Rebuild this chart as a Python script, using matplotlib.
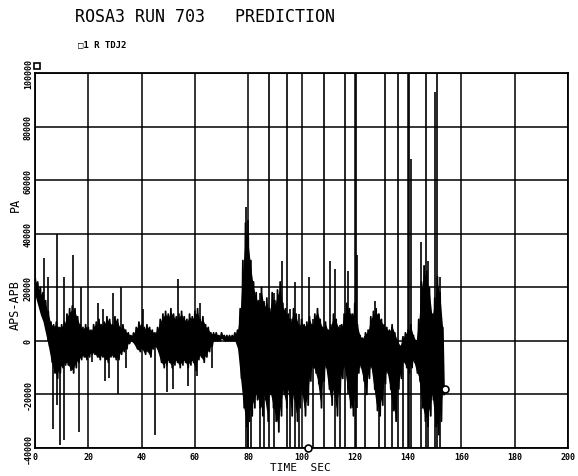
import numpy as np
import matplotlib
matplotlib.use("Agg")
import matplotlib.pyplot as plt

plt.rcParams['font.family'] = ['DejaVu Sans Mono']

# dense trace: upper / lower edge (kPa)
env_t = list(range(0, 154))
env_hi = [24, 22, 20, 18, 15, 11, 7, 6, 7, 5,
          6, 7, 10, 12, 13, 12, 9, 6, 5, 6,
          5, 4, 6, 7, 8, 6, 7, 9, 8, 6,
          9, 8, 5, 6, 4, 3, 2, 3, 5, 7,
          6, 5, 6, 5, 4, 3, 5, 8, 10, 11,
          10, 12, 10, 9, 10, 11, 9, 8, 10, 9,
          11, 12, 8, 9, 6, 5, 3, 3, 3, 2,
          3, 2, 2, 2, 2, 3, 4, 12, 30, 44,
          40, 30, 22, 18, 15, 20, 14, 16, 12, 18,
          15, 19, 22, 14, 12, 10, 8, 12, 10, 6,
          8, 6, 7, 9, 6, 10, 12, 8, 5, 7,
          4, 6, 10, 8, 5, 6, 10, 14, 12, 10,
          14, 6, 2, 1, 3, 4, 9, 11, 12, 10,
          8, 6, 5, 4, 6, 3, 0, -2, 1, 3,
          4, 6, 2, 0, 8, 22, 28, 26, 20, 10,
          16, 24, 18, 5]
env_lo = [19, 15, 11, 8, 3, -2, -8, -12, -14, -12,
          -10, -9, -9, -11, -12, -10, -8, -7, -6, -7,
          -6, -5, -5, -6, -7, -6, -7, -8, -6, -6,
          -7, -7, -5, -4, -3, -1, 0, -1, -3, -4,
          -3, -5, -4, -6, -3, -2, -4, -8, -10, -9,
          -8, -10, -9, -8, -10, -9, -8, -10, -9, -8,
          -11, -7, -6, -8, -6, -4, -2, 0, 0, 0,
          1, 0, 0, 0, 0, 0, -3, -14, -25, -32,
          -30, -28, -25, -22, -25, -28, -22, -30, -20, -25,
          -30, -34, -28, -20, -25, -20, -28, -22, -30, -25,
          -20, -28, -24, -15, -10, -12, -16, -25, -15, -10,
          -18, -24, -20, -28, -20, -14, -10, -18, -25, -28,
          -22, -12, -10, -15, -20, -14, -10, -18, -26, -28,
          -24, -16, -12, -18, -26, -30, -18, -14, -8, -10,
          -12, -10, -8, -12, -15, -25, -30, -32, -28, -22,
          -32, -35, -30, -20]

# isolated spikes: time (s), top and bottom (kPa); off-scale ones are clipped
spike_t = [3.4, 5.0, 6.6, 8.1, 9.4, 11.0, 14.4, 16.5, 17.1, 21.5,
           23.8, 25.6, 26.3, 27.9, 29.1, 31.3, 32.1, 34.1,
           40.5, 45.0, 49.4, 51.9, 53.5, 57.5, 60.7, 61.9, 66.3,
           79.2, 79.8, 81.0, 84.5, 86.0, 89.5, 92.6, 95.5, 97.5, 99.2,
           102.9, 104.5, 110.7, 112.6, 114.5, 117.6, 120.7, 124.0, 127.5,
           129.0, 134.0, 138.0, 141.0, 145.0, 147.5, 150.0, 152.0,
           87.8, 94.5, 108.6, 116.3, 120.3, 131.2, 136.2, 140.3, 146.7, 150.8]
spike_hi = [31, 24, 5, 40, 5, 24, 32, 0, 20, 2,
            14, 12, 2, 4, 18, 2, 20, 3,
            12, 2, 3, 3, 23, 3, 2, 14, 2,
            50, 45, 20, 18, 15, 18, 30, 12, 22, 10,
            24, 8, 30, 27, 6, 26, 32, 2, 15,
            10, 5, 2, 68, 37, 30, 93, 24,
            110, 110, 110, 110, 110, 110, 110, 110, 110, 110]
spike_lo = [10, 0, -33, -24, -39, -37, 0, -34, 0, -8,
            0, 0, -15, -14, 0, -20, 0, -10,
            0, -35, -19, -18, 0, -17, -13, 0, -10,
            -45, -45, -40, -40, -45, -45, -20, -45, -40, -45,
            -10, -45, -15, -45, -45, -20, -25, -45, -10,
            -45, -45, -45, -40, -45, -45, -45, -45,
            -45, -45, -45, -45, -45, -45, -45, -45, -45, -45]

x_ticks = [0, 20, 40, 60, 80, 100, 120, 140, 160, 180, 200]
y_ticks = [-40000, -20000, 0, 20000, 40000, 60000, 80000, 100000]

fig = plt.figure(figsize=(5.78, 4.77), dpi=100)
ax = fig.add_axes([35 / 578, 28 / 477, 533 / 578, 375 / 477])

hi = np.array(env_hi) * 1000
lo = np.array(env_lo) * 1000
# solid core of the trace, then a zigzag through the edges for the ragged look
ax.fill_between(env_t, lo * 0.9, hi * 0.9, color='black', lw=0, zorder=3)
zx = np.repeat(env_t, 2) + np.tile([0.0, 0.5], len(env_t))
zy = np.column_stack([hi, lo]).ravel()
ax.plot(zx, zy, color='black', lw=1.3, zorder=3)
ax.vlines(spike_t, np.array(spike_lo) * 1000, np.array(spike_hi) * 1000,
          color='black', lw=1.2, zorder=3)

# plotter symbols
ax.plot([153.8], [-18000], marker='o', ms=5, mfc='white', mec='black', mew=1.2, zorder=4)
ax.plot([102.6], [-40000], marker='o', ms=5, mfc='white', mec='black', mew=1.2,
        zorder=4, clip_on=False)
ax.plot([0.8], [102500], marker='s', ms=5, mfc='white', mec='black', mew=1.2,
        zorder=4, clip_on=False)

ax.set_xlim(0, 200)
ax.set_ylim(-40000, 100000)
ax.set_xticks(x_ticks)
ax.set_xticklabels([str(v) for v in x_ticks])
ax.set_yticks(y_ticks)
ax.set_yticklabels([str(v) for v in y_ticks], rotation=90, va='center')
ax.tick_params(length=0, labelsize=6)
ax.tick_params(axis='x', pad=3)
ax.tick_params(axis='y', pad=1.5)
for lab in ax.get_xticklabels() + ax.get_yticklabels():
    lab.set_fontweight('bold')
ax.grid(True, color='black', lw=1.1)
for s in ax.spines.values():
    s.set_linewidth(1.3)

fig.text(75 / 578, 1 - 17 / 477, 'ROSA3 RUN 703   PREDICTION', fontsize=12,
         ha='left', va='center')
fig.text(78 / 578, 1 - 45 / 477, '\u25a11 R TDJ2', fontsize=6.5, fontweight='bold',
         ha='left', va='center')
fig.text(300 / 578, 1 - 468 / 477, 'TIME  SEC', fontsize=8, ha='center', va='center')
fig.text(15 / 578, 1 - 305 / 477, 'APS-APB', fontsize=8.5, rotation=90,
         ha='center', va='center')
fig.text(15 / 578, 1 - 205 / 477, 'PA', fontsize=8.5, rotation=90,
         ha='center', va='center')

fig.savefig('out.png', dpi=100)
